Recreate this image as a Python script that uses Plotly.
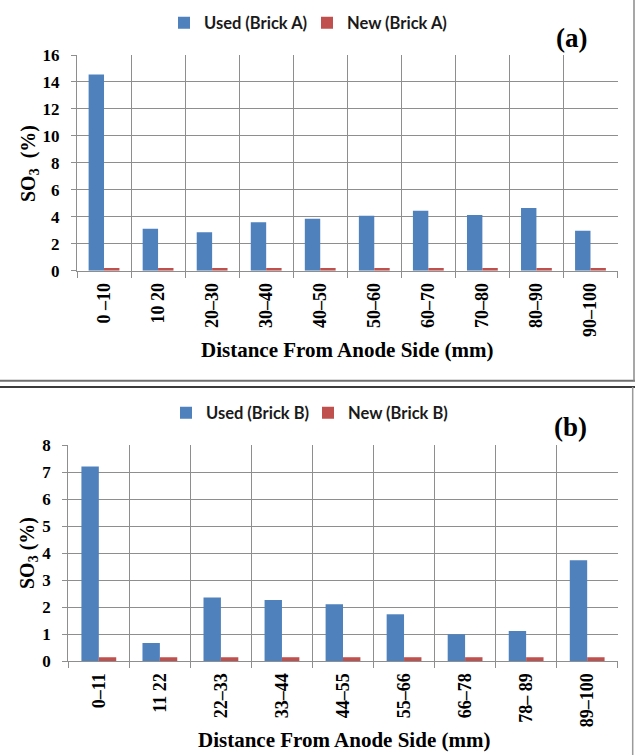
import plotly.graph_objects as go

# ---- data ----
cats_a = ["0 –10", "10 20", "20–30", "30–40", "40–50", "50–60", "60–70", "70–80", "80–90", "90–100"]
used_a = [14.55, 3.12, 2.85, 3.6, 3.86, 4.08, 4.45, 4.13, 4.65, 2.97]
new_a = [0.2, 0.2, 0.2, 0.2, 0.2, 0.2, 0.2, 0.2, 0.2, 0.2]

cats_b = ["0–11", "11 22", "22–33", "33–44", "44–55", "55–66", "66–78", "78– 89", "89–100"]
used_b = [7.2, 0.67, 2.35, 2.26, 2.1, 1.73, 0.99, 1.11, 3.73]
new_b = [0.14, 0.14, 0.14, 0.14, 0.14, 0.14, 0.14, 0.14, 0.14]

names = ["Used (Brick A)", "New (Brick A)", "Used (Brick B)", "New (Brick B)"]

BLUE = "#4f81bd"
RED = "#c0504d"
W, H = 635, 755
SERIF = "Liberation Serif"
SANS = "Lato"
GRID = "#8e8e8e"


def px(x):
    return x / W


def py(y):
    return 1 - y / H


fig = go.Figure()
fig.add_trace(go.Bar(x=cats_a, y=used_a, name=names[0], marker=dict(color=BLUE, line=dict(width=0)),
                     xaxis="x", yaxis="y", legend="legend"))
fig.add_trace(go.Bar(x=cats_a, y=new_a, name=names[1], marker=dict(color=RED, line=dict(width=0)),
                     xaxis="x", yaxis="y", legend="legend2"))
fig.add_trace(go.Bar(x=cats_b, y=used_b, name=names[2], marker=dict(color=BLUE, line=dict(width=0)),
                     xaxis="x2", yaxis="y2", legend="legend3"))
fig.add_trace(go.Bar(x=cats_b, y=new_b, name=names[3], marker=dict(color=RED, line=dict(width=0)),
                     xaxis="x2", yaxis="y2", legend="legend4"))

xcommon = dict(type="category", tickson="boundaries", showgrid=True, gridcolor=GRID, gridwidth=1.3,
               showline=True, linecolor=GRID, linewidth=1.3, ticks="outside", ticklen=6,
               tickcolor=GRID, tickwidth=1.3, tickangle=-90, ticklabelstandoff=4,
               tickfont=dict(family=SERIF, size=18, color="black", weight="bold"),
               automargin=False, zeroline=False)
ycommon = dict(showgrid=True, gridcolor=GRID, gridwidth=1.3, showline=True, linecolor=GRID,
               linewidth=1.3, ticks="outside", ticklen=5, tickcolor=GRID, tickwidth=1.3,
               ticklabelstandoff=8, tickfont=dict(family=SERIF, size=17, color="black", weight="bold"),
               automargin=False, zeroline=False)

legfont = dict(family=SANS, size=16.5, color="#1a1a1a", weight="bold")


def leg(textx, ycen):
    return dict(x=px(textx - 40), y=py(ycen), xanchor="left", yanchor="middle",
                orientation="h", bgcolor="rgba(0,0,0,0)", font=legfont, borderwidth=0)


fig.update_layout(
    width=W, height=H, margin=dict(l=0, r=0, t=0, b=0),
    paper_bgcolor="white", plot_bgcolor="white",
    barmode="group", bargap=0.43, bargroupgap=0,
    xaxis=dict(domain=[px(77), px(617.5)], anchor="y", **xcommon),
    yaxis=dict(domain=[py(270.7), py(55)], anchor="x", range=[0, 16], dtick=2, **ycommon),
    xaxis2=dict(domain=[px(68.3), px(617.7)], anchor="y2", **xcommon),
    yaxis2=dict(domain=[py(661), py(445)], anchor="x2", range=[0, 8], dtick=1, **ycommon),
    legend=leg(204, 23),
    legend2=leg(347, 23),
    legend3=leg(206, 413),
    legend4=leg(348, 413),
    showlegend=True,
)

titlefont = dict(family=SERIF, size=21, color="black", weight="bold")
yfont = dict(family=SERIF, size=20, color="black", weight="bold")
panelfont = dict(family=SERIF, size=27, color="black", weight="bold")

anns = [
    dict(text="Distance From Anode Side (mm)", x=px(347), y=py(350), font=titlefont),
    dict(text="Distance From Anode Side (mm)", x=px(344), y=py(740), font=titlefont),
    dict(text="SO<sub>3</sub>\u00a0 (%)", x=px(30), y=py(164), font=yfont, textangle=-90),
    dict(text="SO<sub>3</sub> (%)", x=px(28), y=py(553), font=yfont, textangle=-90),
    dict(text="(a)", x=px(571), y=py(38), font=panelfont),
    dict(text="(b)", x=px(570), y=py(427), font=panelfont),
]
for a in anns:
    fig.add_annotation(xref="paper", yref="paper", showarrow=False, xanchor="center", yanchor="middle", **a)

# panel frames
shapes = [
    dict(x0=0, x1=1, y0=py(380.7), y1=py(380.7), line=dict(color="#6f6f6f", width=2)),
    dict(x0=px(634), x1=px(634), y0=py(380.7), y1=1, line=dict(color="#8a8a8a", width=1.5)),
    dict(x0=0, x1=1, y0=py(387), y1=py(387), line=dict(color="#3c3c3c", width=2)),
    dict(x0=px(632.7), x1=px(632.7), y0=0, y1=py(387), line=dict(color="#9a9a9a", width=1.5)),
]
for s in shapes:
    fig.add_shape(type="line", xref="paper", yref="paper", **s)

fig.write_html("out.html")
